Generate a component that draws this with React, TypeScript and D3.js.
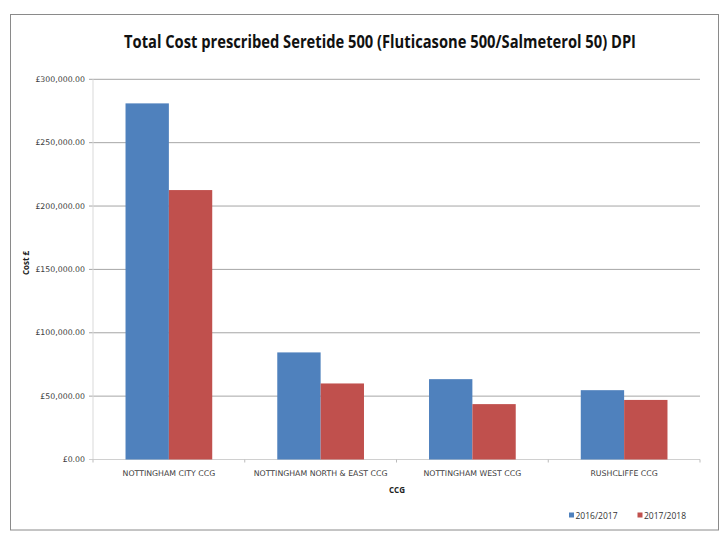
import React from "react";
import * as d3 from "d3";

const title = "Total Cost prescribed Seretide 500 (Fluticasone 500/Salmeterol 50) DPI";
const categories = ["NOTTINGHAM CITY CCG", "NOTTINGHAM NORTH & EAST CCG", "NOTTINGHAM WEST CCG", "RUSHCLIFFE CCG"];
const seriesNames = ["2016/2017", "2017/2018"];
const values2016 = [281000, 84500, 63400, 54700];
const values2017 = [212600, 60000, 43700, 47000];
const yTicks = [0, 50000, 100000, 150000, 200000, 250000, 300000];
const colors = ["#4F81BD", "#C0504D"];

export default function App() {
  const W = 720, H = 540;
  const left = 93, right = 700, top = 79.3, bottom = 459.5;
  const y = d3.scaleLinear().domain([0, 300000]).range([bottom, top]);
  const x0 = d3.scaleBand<string>().domain(categories).range([left, right]).padding(0);
  const step = x0.step();
  const gap = (step * 1.5) / 3.5;
  const x1 = d3.scaleBand<string>().domain(seriesNames).range([gap / 2, step - gap / 2]).padding(0);
  const series = [values2016, values2017];
  const fmt = (v: number) => "£" + d3.format(",.2f")(v);
  const font = "DejaVu Sans, Verdana, sans-serif";
  const boundaries = d3.range(categories.length + 1).map((i) => left + i * step);

  return (
    <svg width={W} height={H} style={{ position: "absolute", left: 0, top: 0 }}>
      <rect x={0} y={0} width={W} height={H} fill="#fff" />
      <rect x={10.5} y={14.5} width={708} height={515.5} fill="none" stroke="#8a8a8a" strokeWidth={1} />
      <text x={380} y={48} textAnchor="middle" fontFamily="Open Sans, sans-serif" fontWeight="bold" fontSize={17} fill="#111" textLength={512} lengthAdjust="spacingAndGlyphs">
        {title}
      </text>
      {yTicks.map((t) => (
        <g key={t}>
          <line x1={89} x2={right} y1={y(t)} y2={y(t)} stroke={t === 0 ? "#d0d0d0" : "#a6a6a6"} strokeWidth={1} />
          <text x={85} y={y(t) + 2.7} textAnchor="end" fontFamily={font} fontSize={7.8} fill="#404040">
            {fmt(t)}
          </text>
        </g>
      ))}
      <line x1={left} x2={left} y1={top} y2={bottom} stroke="#d9d9d9" strokeWidth={1} />
      {boundaries.map((b, i) => (
        <line key={i} x1={b} x2={b} y1={bottom} y2={bottom + 3} stroke="#bbbbbb" strokeWidth={1} />
      ))}
      {categories.map((c, ci) => (
        <g key={c} transform={`translate(${x0(c)},0)`}>
          {seriesNames.map((s, si) => (
            <rect key={s} x={x1(s)} y={y(series[si][ci])} width={x1.bandwidth()} height={bottom - y(series[si][ci])} fill={colors[si]} />
          ))}
        </g>
      ))}
      {categories.map((c) => (
        <text key={c} x={(x0(c) as number) + step / 2} y={476} textAnchor="middle" fontFamily={font} fontSize={7.8} fill="#404040">
          {c}
        </text>
      ))}
      <text x={397} y={493} textAnchor="middle" fontFamily="Open Sans, sans-serif" fontWeight="bold" fontSize={8} fill="#222">
        CCG
      </text>
      <text transform={`translate(29,263) rotate(-90)`} textAnchor="middle" fontFamily="Open Sans, sans-serif" fontWeight="bold" fontSize={8} fill="#222">
        Cost £
      </text>
      {seriesNames.map((s, i) => {
        const lx = 569 + i * 68.5;
        return (
          <g key={s}>
            <rect x={lx} y={512.5} width={5} height={5} fill={colors[i]} />
            <text x={lx + 6.5} y={518.5} fontFamily="Open Sans, sans-serif" fontSize={8.5} fill="#333">
              {s}
            </text>
          </g>
        );
      })}
    </svg>
  );
}
